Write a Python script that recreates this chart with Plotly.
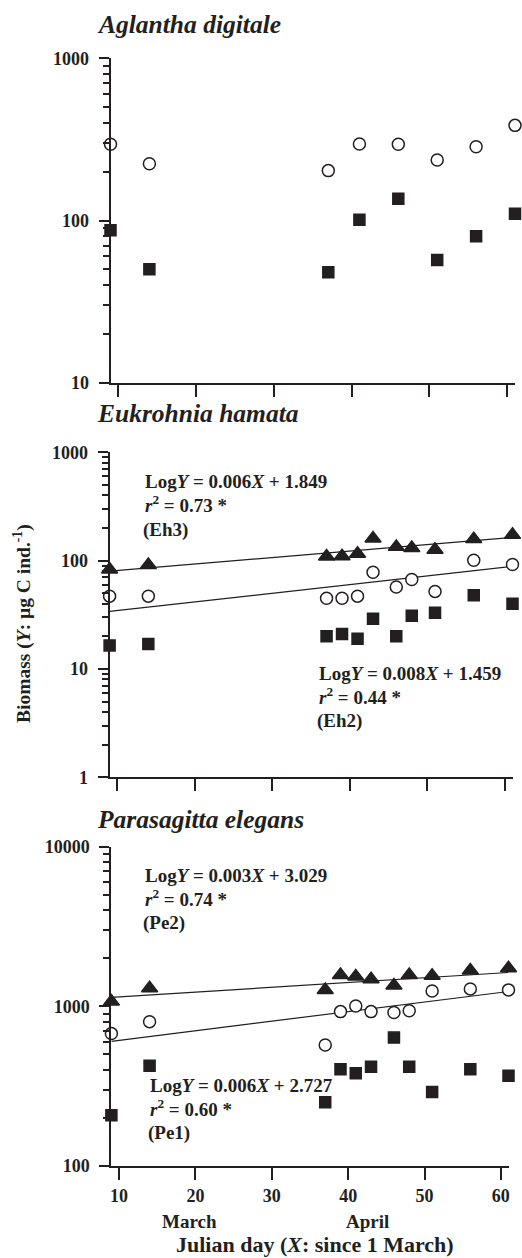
import plotly.graph_objects as go

# ---- data -------------------------------------------------------------
ag_day = [9, 14, 37, 41, 46, 51, 56, 61]
ag_open = [295, 224, 203, 296, 295, 236, 285, 386]
ag_solid = [87, 50, 48, 101, 136, 57, 80, 110]

eh_day = [9, 14, 37, 39, 41, 43, 46, 48, 51, 56, 61]
eh_tri = [83, 91, 109, 110, 116, 160, 134, 131, 126, 158, 173]
eh_open = [47, 47, 45, 45, 47, 78, 57, 67, 52, 101, 92]
eh_solid = [16.5, 17, 20, 21, 19, 29, 20, 31, 33, 48, 40]

pe_day = [9, 14, 37, 39, 41, 43, 46, 48, 51, 56, 61]
pe_tri = [1071, 1298, 1267, 1574, 1538, 1479, 1350, 1574, 1553, 1676, 1734]
pe_open = [675, 802, 573, 927, 1004, 927, 914, 939, 1247, 1286, 1268]
pe_solid = [208, 425, 251, 403, 381, 419, 637, 419, 291, 403, 367]

# regressions: log10(Y) = slope * X + intercept
fit_names = ["Eh3", "Eh2", "Pe2", "Pe1"]
fit_slope = [0.006, 0.008, 0.003, 0.006]
fit_intercept = [1.849, 1.459, 3.029, 2.727]
fit_r2 = [0.73, 0.44, 0.74, 0.60]

titles = ["Aglantha digitale", "Eukrohnia hamata", "Parasagitta elegans"]
x_ticks = [10, 20, 30, 40, 50, 60]
month_labels = ["March", "April"]
month_pos = [19.2, 42.5]

# ---- page geometry (pixels) -------------------------------------------
W, H = 522, 1258
INK = "#231f20"
FONT = "Liberation Serif"
X_RANGE = [9, 61]


def fx(p):
    return p / W


def fy(p):
    return 1 - p / H


panels = [
    dict(x0=110.5, x1=515.0, top=58.3, bot=382.7, yr=[1, 3]),
    dict(x0=109.6, x1=512.5, top=452.3, bot=777.3, yr=[0, 3]),
    dict(x0=111.4, x1=508.5, top=846.7, bot=1166.0, yr=[2, 4]),
]

fig = go.Figure()


def sfx(i):
    return "" if i == 0 else str(i + 1)


def add_pts(i, x, y, symbol, fill, size):
    fig.add_trace(go.Scatter(
        x=x, y=y, mode="markers", xaxis="x" + sfx(i), yaxis="y" + sfx(i),
        cliponaxis=False, showlegend=False,
        marker=dict(symbol=symbol, size=size, color=fill,
                    line=dict(color=INK, width=1.5)),
    ))


def add_fit(i, k):
    xs = X_RANGE
    ys = [10 ** (fit_slope[k] * v + fit_intercept[k]) for v in xs]
    fig.add_trace(go.Scatter(
        x=xs, y=ys, mode="lines", xaxis="x" + sfx(i), yaxis="y" + sfx(i),
        showlegend=False, cliponaxis=False,
        line=dict(color=INK, width=1.2),
    ))


# fitted lines first, markers over them
add_fit(1, 0)
add_fit(1, 1)
add_fit(2, 2)
add_fit(2, 3)

add_pts(0, ag_day, ag_open, "circle", "white", 12)
add_pts(0, ag_day, ag_solid, "square", INK, 11)

add_pts(1, eh_day, eh_tri, "triangle-up", INK, 14)
add_pts(1, eh_day, eh_open, "circle", "white", 12)
add_pts(1, eh_day, eh_solid, "square", INK, 11)

add_pts(2, pe_day, pe_tri, "triangle-up", INK, 14)
add_pts(2, pe_day, pe_open, "circle", "white", 12)
add_pts(2, pe_day, pe_solid, "square", INK, 11)

layout = dict(
    width=W, height=H,
    margin=dict(l=0, r=0, t=0, b=0, autoexpand=False),
    paper_bgcolor="white", plot_bgcolor="white",
    font=dict(family=FONT, color=INK, size=18),
    showlegend=False,
)

for i, p in enumerate(panels):
    ax = sfx(i)
    lo, hi = p["yr"]
    major = [10 ** e for e in range(lo, hi + 1)]
    layout["xaxis" + ax] = dict(
        domain=[fx(p["x0"]), fx(p["x1"])], anchor="y" + ax,
        range=X_RANGE, showgrid=False, zeroline=False,
        showline=True, linecolor=INK, linewidth=2,
        ticks="outside", ticklen=12, tickwidth=2, tickcolor=INK,
        tickmode="array", tickvals=x_ticks,
        ticktext=[f"<b>{v}</b>" for v in x_ticks],
        showticklabels=(i == 2),
        tickfont=dict(family=FONT, size=18, color=INK),
    )
    layout["yaxis" + ax] = dict(
        domain=[fy(p["bot"]), fy(p["top"])], anchor="x" + ax,
        type="log", range=[lo, hi], showgrid=False, zeroline=False,
        showline=True, linecolor=INK, linewidth=2,
        ticks="outside", ticklen=10, tickwidth=2, tickcolor=INK,
        tickmode="array", tickvals=major,
        ticktext=[f"<b>{v}</b>" for v in major],
        tickfont=dict(family=FONT, size=18, color=INK),
        ticklabelstandoff=6,
        minor=dict(ticks="outside", ticklen=6, tickwidth=1.5,
                   tickcolor=INK, dtick="D1", showgrid=False),
    )

fig.update_layout(**layout)

ann = []


def label(text, x, y, size=19, xanchor="left", angle=0):
    ann.append(dict(
        text=text, x=fx(x), y=fy(y), xref="paper", yref="paper",
        xanchor=xanchor, yanchor="middle", showarrow=False,
        textangle=angle, font=dict(family=FONT, size=size, color=INK),
    ))


# species titles
for t, yy in zip(titles, [25, 413, 819]):
    label(f"<b><i>{t}</i></b>", 95, yy, size=25.5)

# regression annotations: (left x, first line y)
eq_pos = [(142.7, 481.7), (316.7, 673.3), (143.3, 875.0), (148.3, 1085.0)]
for k, (lx, ly) in enumerate(eq_pos):
    label(f"<b>Log<i>Y</i> = {fit_slope[k]:.3f}<i>X</i> + {fit_intercept[k]:.3f}</b>", lx, ly)
    label(f"<b><i>r</i><sup>2</sup> = {fit_r2[k]:.2f} *</b>", lx, ly + 22.5)
    label(f"<b>({fit_names[k]})</b>", lx - 2, ly + 48)

# month labels under the bottom axis
bp = panels[2]
for m, d in zip(month_labels, month_pos):
    px = bp["x0"] + (d - X_RANGE[0]) / (X_RANGE[1] - X_RANGE[0]) * (bp["x1"] - bp["x0"])
    label(f"<b>{m}</b>", px, 1221, xanchor="center")

label("<b>Julian day (<i>X</i>: since 1 March)</b>", 315, 1244, size=22, xanchor="center")
label("<b>Biomass (<i>Y</i>: µg C ind.<sup>-1</sup>)</b>", 23, 624, size=19.5,
      xanchor="center", angle=-90)

fig.update_layout(annotations=ann)
fig.write_html("out.html")
